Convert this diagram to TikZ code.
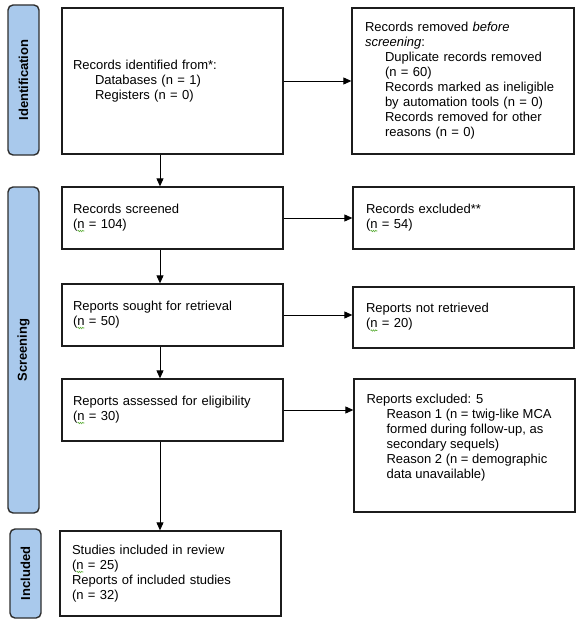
\documentclass[tikz,border=0pt]{standalone}
\usepackage{fontspec}
\setmainfont{Liberation Sans}
\usetikzlibrary{arrows.meta,calc,decorations.pathmorphing}
\definecolor{labfill}{HTML}{A9C9EC}
\definecolor{labdraw}{HTML}{2E2E2E}
\definecolor{boxdraw}{HTML}{1C1C1C}
\definecolor{sqgreen}{HTML}{5FAF3C}
\newcommand{\wn}{\makebox[0pt][l]{\tikz[baseline=0pt]{\draw[sqgreen,line width=0.6pt,decorate,
  decoration={snake,amplitude=0.7pt,segment length=2.2pt}] (0.3pt,-2.6pt) -- (7pt,-2.6pt);}}n}
\newcommand{\ind}{\hspace*{20pt}}
\begin{document}
\begin{tikzpicture}[x=1pt,y=-1pt,
  every node/.style={font=\fontsize{13}{15}\selectfont},
  box/.style={draw=boxdraw,line width=1.3pt,rectangle,align=left,inner ysep=0pt,minimum height=#1},
  box/.default=62pt,
  lab/.style={draw=labdraw,fill=labfill,line width=1.4pt,rounded corners=5pt,rectangle,
    minimum width=31pt,minimum height=#1,inner sep=0pt},
  labtxt/.style={rotate=90,font=\fontsize{13}{15}\selectfont\bfseries,inner sep=0pt},
  arr/.style={draw=black,line width=0.9pt,-{Triangle[length=8pt,width=7pt]}}]
\useasboundingbox (0,0) rectangle (583,626);

% phase labels
\node[lab=150pt] (L1) at (23.5,80) {};
\node[labtxt] (L1t) at (L1.center) {Identification};
\node[lab=326pt] (L2) at (23.5,350) {};
\node[labtxt] (L2t) at (L2.center) {Screening};
\node[lab=89pt] (L3) at (25.5,573.5) {};
\node[labtxt] (L3t) at (L3.center) {Included};

% left column
\node[box=146pt,text width=199pt,inner xsep=11pt] (b1) at (172.5,81)
  {Records identified from*:\\
   \hspace*{22pt}Databases (n = 1)\\
   \hspace*{22pt}Registers (n = 0)};
\node[box,text width=199pt,inner xsep=11pt] (b3) at (172.5,218)
  {Records screened\\(\wn{} = 104)};
\node[box,text width=199pt,inner xsep=11pt] (b5) at (172.5,315)
  {Reports sought for retrieval\\(\wn{} = 50)};
\node[box,text width=199pt,inner xsep=11pt] (b7) at (172.5,410)
  {Reports assessed for eligibility\\(\wn{} = 30)};
\node[box=85pt,text width=197pt,inner xsep=12pt] (b9) at (170.5,573.5)
  {Studies included in review\\(\wn{} = 25)\\Reports of included studies\\(n = 32)};

% right column
\node[box=146pt,text width=196pt,inner xsep=13pt] (b2) at (463,81)
  {Records removed \textit{before}\\
   \textit{screening}:\\
   \ind Duplicate records removed\\
   \ind (n = 60)\\
   \ind Records marked as ineligible\\
   \ind by automation tools (n = 0)\\
   \ind Records removed for other\\
   \ind reasons (n = 0)};
\node[box,text width=195pt,inner xsep=13pt] (b4) at (463.5,218)
  {Records excluded**\\(\wn{} = 54)};
\node[box=61pt,text width=195pt,inner xsep=13pt] (b6) at (463.5,317.5)
  {Reports not retrieved\\(\wn{} = 20)};
\node[box=133pt,minimum width=221pt] (b8) at (464.5,445.5) {};
\node[anchor=north west,align=left,inner sep=0pt] (t8) at ($(b8.north west)+(13,16)$)
  {Reports excluded: 5\\
   \ind Reason 1 (n = twig-like MCA\\
   \ind formed during follow-up, as\\
   \ind secondary sequels)\\
   \ind Reason 2 (n = demographic\\
   \ind data unavailable)};

% connectors
\coordinate (col) at (160,0);
\draw[arr] (b1.south -| col) -- (b3.north -| col);
\draw[arr] (b3.south -| col) -- (b5.north -| col);
\draw[arr] (b5.south -| col) -- (b7.north -| col);
\draw[arr] (b7.south -| col) -- (b9.north -| col);
\draw[arr] (b1.east) -- (b1.east -| b2.west);
\draw[arr] (b3.east) -- (b3.east -| b4.west);
\draw[arr] (b5.east) -- (b5.east -| b6.west);
\draw[arr] (b7.east) -- (b7.east -| b8.west);
\end{tikzpicture}
\end{document}
